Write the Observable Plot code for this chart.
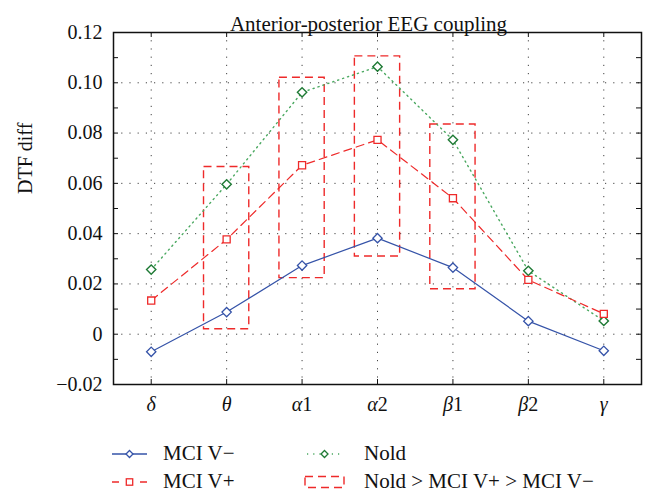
<!DOCTYPE html>
<html><head><meta charset="utf-8">
<script src="https://cdn.jsdelivr.net/npm/d3@7"></script>
<script src="https://cdn.jsdelivr.net/npm/@observablehq/plot@0.6"></script>
<style>
body{margin:0;background:#fff;}
#wrap{position:relative;width:649px;height:494px;font-family:"Liberation Serif",serif;}
.leg{position:absolute;font-size:21px;color:#111;line-height:1;white-space:nowrap;}
</style>
</head><body><div id="wrap"></div>
<script>
const bands = ["δ","θ","α1","α2","β1","β2","γ"];
const bandIdx = [1,2,3,4,5,6,7];
const mciMinus = [-0.0070, 0.0088, 0.0273, 0.0382, 0.0265, 0.0052, -0.0066];
const mciPlus  = [0.0134, 0.0377, 0.0672, 0.0773, 0.0541, 0.0216, 0.0081];
const nold     = [0.0257, 0.0596, 0.0962, 0.1064, 0.0773, 0.0252, 0.0053];
const boxBands  = [2, 3, 4, 5];
const boxTop    = [0.0665, 0.1020, 0.1105, 0.0834];
const boxBottom = [0.0020, 0.0223, 0.0309, 0.0179];
const yTicks = [-0.02, 0, 0.02, 0.04, 0.06, 0.08, 0.10, 0.12];
const yTickLabels = ["\u22120.02","0","0.02","0.04","0.06","0.08","0.10","0.12"];
const yMinor = [-0.01, 0.01, 0.03, 0.05, 0.07, 0.09, 0.11];
const title = "Anterior-posterior EEG coupling";
const yLabel = "DTF diff";

const W = 649, H = 494, mL = 113, mR = 8, mT = 32, mB = 110;
const pw = W - mL - mR, ph = H - mT - mB;
const FF = "'Liberation Serif', serif";

const series = (vals) => bandIdx.map((b, i) => ({x: b, y: vals[i]}));
const sMinus = series(mciMinus), sPlus = series(mciPlus), sNold = series(nold);
const boxes = boxBands.map((b, i) => ({x1: b - 0.3, x2: b + 0.3, y1: boxBottom[i], y2: boxTop[i]}));
const allY = yTicks.concat(yMinor);

const blue = "#3553a8", red = "#ee2a2a", green = "#1f7a35", lgreen = "#4aa860";
const grid = {stroke: "#444", strokeDasharray: "1.2,7", strokeWidth: 1};

const chart = Plot.plot({
  width: W, height: H, marginLeft: mL, marginRight: mR, marginTop: mT, marginBottom: mB,
  x: {domain: [0.5, 7.5]},
  y: {domain: [-0.02, 0.12]},
  style: {fontFamily: FF, fontSize: "20px", background: "white", color: "#111"},
  marks: [
    Plot.ruleY(yTicks.slice(1, -1), {...grid}),
    Plot.ruleX(bandIdx, {...grid}),
    Plot.tickY(allY, {y: d => d, insetRight: pw - 5, stroke: "#111"}),
    Plot.tickY(allY, {y: d => d, insetLeft: pw - 5, stroke: "#111"}),
    Plot.tickX(bandIdx, {x: d => d, insetBottom: ph - 5, stroke: "#111"}),
    Plot.tickX(bandIdx, {x: d => d, insetTop: ph - 5, stroke: "#111"}),
    Plot.rect(boxes, {x1: "x1", x2: "x2", y1: "y1", y2: "y2", fill: "none", stroke: red, strokeWidth: 1.4, strokeDasharray: "8,5"}),
    Plot.line(sNold, {x: "x", y: "y", stroke: lgreen, strokeWidth: 1.4, strokeDasharray: "1.2,4"}),
    Plot.line(sPlus, {x: "x", y: "y", stroke: red, strokeWidth: 1.2, strokeDasharray: "8,5"}),
    Plot.line(sMinus, {x: "x", y: "y", stroke: blue, strokeWidth: 1.2}),
    Plot.dot(sNold, {x: "x", y: "y", symbol: "diamond2", r: 4.2, stroke: green, fill: "white", strokeWidth: 1.4}),
    Plot.dot(sPlus, {x: "x", y: "y", symbol: "square2", r: 4.5, stroke: red, fill: "white", strokeWidth: 1.3}),
    Plot.dot(sMinus, {x: "x", y: "y", symbol: "diamond2", r: 4.2, stroke: blue, fill: "white", strokeWidth: 1.3}),
    Plot.frame({stroke: "#111", strokeWidth: 1.5}),
    Plot.axisY(yTicks, {tickSize: 0, tickPadding: 11, label: null, fontFamily: FF, fontSize: 20, tickFormat: d => yTickLabels[yTicks.indexOf(d)]}),
    Plot.axisX(bandIdx, {tickSize: 0, tickPadding: 12, label: null, fontFamily: FF, fontSize: 20, tickFormat: d => bands[d - 1]}),
    Plot.text([yLabel], {frameAnchor: "left", dx: -88, dy: -14.5, rotate: -90, fontSize: 20, fontFamily: FF, fill: "#111"}),
    Plot.text([title], {frameAnchor: "top", dx: -9, dy: -16, fontSize: 21, fontFamily: FF, fill: "#111"})
  ]
});
const wrap = document.getElementById("wrap");
wrap.appendChild(chart);

// Greek letters italic, digits upright
const svgNS = "http://www.w3.org/2000/svg";
chart.querySelectorAll('g[aria-label="x-axis tick label"] text').forEach(t => {
  const s = t.textContent;
  const greek = s.charAt(0), rest = s.slice(1);
  t.textContent = "";
  const a = document.createElementNS(svgNS, "tspan");
  a.setAttribute("font-style", "italic"); a.textContent = greek; t.appendChild(a);
  if (rest) {
    const b = document.createElementNS(svgNS, "tspan");
    b.setAttribute("font-style", "normal"); b.textContent = rest; t.appendChild(b);
  }
});

// legend
const legendItems = [
  {label: "MCI V\u2212", kind: "line", color: blue, dash: null, sym: "diamond", mcolor: blue, x: 111.7, y: 454},
  {label: "MCI V+", kind: "line", color: red, dash: "8,5", sym: "square", mcolor: red, x: 111.7, y: 482},
  {label: "Nold", kind: "line", color: lgreen, dash: "1.2,4", sym: "diamond", mcolor: green, x: 306.7, y: 454},
  {label: "Nold > MCI V+ > MCI V\u2212", kind: "rect", color: red, x: 305, y: 482}
];
for (const it of legendItems) {
  const svg = document.createElementNS(svgNS, "svg");
  svg.setAttribute("width", 44); svg.setAttribute("height", 20);
  svg.style.position = "absolute";
  svg.style.left = (it.x - 2) + "px"; svg.style.top = (it.y - 10) + "px";
  if (it.kind === "line") {
    const l = document.createElementNS(svgNS, "line");
    l.setAttribute("x1", 2); l.setAttribute("x2", 37); l.setAttribute("y1", 10); l.setAttribute("y2", 10);
    l.setAttribute("stroke", it.color); l.setAttribute("stroke-width", 1.3);
    if (it.dash) l.setAttribute("stroke-dasharray", it.dash === "8,5" ? "7,7" : "1.2,5");
    svg.appendChild(l);
    const cx = 19.5, cy = 10;
    let m;
    if (it.sym === "diamond") {
      m = document.createElementNS(svgNS, "path");
      m.setAttribute("d", `M${cx},${cy-3.5}L${cx+3.5},${cy}L${cx},${cy+3.5}L${cx-3.5},${cy}Z`);
    } else {
      m = document.createElementNS(svgNS, "rect");
      m.setAttribute("x", cx - 3.2); m.setAttribute("y", cy - 3.2); m.setAttribute("width", 6.4); m.setAttribute("height", 6.4);
    }
    m.setAttribute("fill", "white"); m.setAttribute("stroke", it.mcolor); m.setAttribute("stroke-width", 1.3);
    svg.appendChild(m);
  } else {
    const r = document.createElementNS(svgNS, "rect");
    r.setAttribute("x", 2); r.setAttribute("y", 4.5); r.setAttribute("width", 39); r.setAttribute("height", 11);
    r.setAttribute("fill", "none"); r.setAttribute("stroke", it.color); r.setAttribute("stroke-width", 1.4);
    r.setAttribute("stroke-dasharray", "8,5");
    svg.appendChild(r);
  }
  wrap.appendChild(svg);
  const t = document.createElement("div");
  t.className = "leg";
  t.textContent = it.label;
  t.style.left = (it.x < 200 ? 163 : 364) + "px";
  t.style.top = (it.y - 11) + "px";
  wrap.appendChild(t);
}
</script>
</body></html>
